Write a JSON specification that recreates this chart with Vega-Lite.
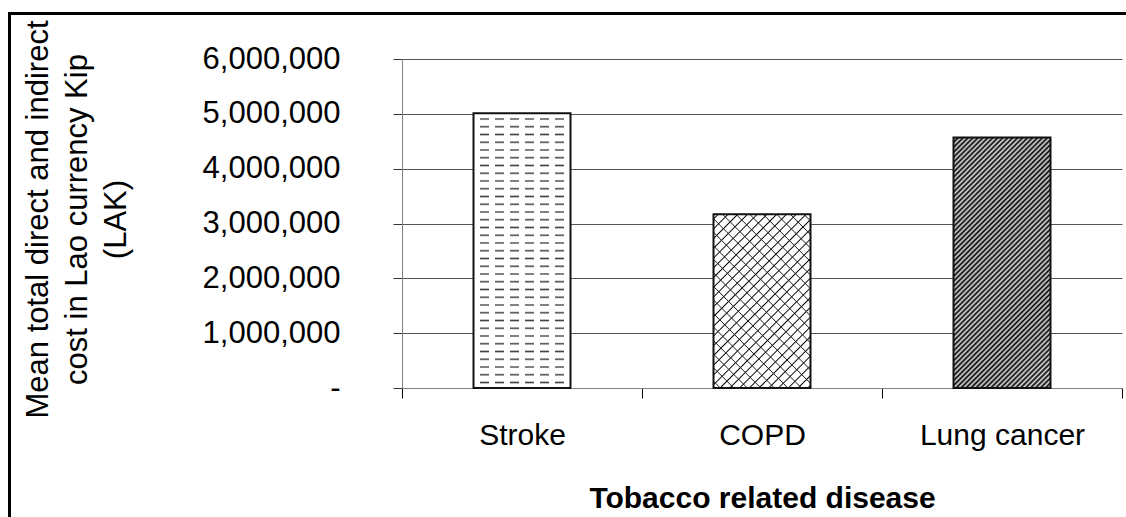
{
  "$schema": "https://vega.github.io/schema/vega-lite/v6.json",
  "width": 720,
  "height": 329,
  "autosize": {"type": "none"},
  "padding": {"left": 402, "top": 59, "right": 4, "bottom": 129},
  "background": "white",
  "config": {"font": "Liberation Sans", "view": {"stroke": null}},
  "datasets": {
    "costs": [
      {"disease": "Stroke", "cost": 5010000},
      {"disease": "COPD", "cost": 3170000},
      {"disease": "Lung cancer", "cost": 4570000}
    ]
  },
  "layer": [
    {
      "data": {"name": "costs"},
      "encoding": {
        "x": {
          "field": "disease", "type": "nominal", "sort": ["Stroke", "COPD", "Lung cancer"],
          "scale": {"paddingInner": 0, "paddingOuter": 0},
          "title": "Tobacco related disease",
          "axis": {
            "orient": "bottom", "labelAngle": 0, "labelFont": "Liberation Sans", "labelFontSize": 30, "labelColor": "#000",
            "labelPadding": 22, "tickBand": "extent", "tickSize": 10, "tickColor": "#000", "tickWidth": 1,
            "domainColor": "#808080", "domainWidth": 1, "grid": false,
            "titleFont": "Liberation Sans", "titleFontSize": 30, "titleFontWeight": "bold", "titleColor": "#000",
            "titleY": 95, "titleBaseline": "top"
          }
        },
        "y": {
          "field": "cost", "type": "quantitative",
          "scale": {"domain": [0, 6000000], "nice": false},
          "title": ["Mean total direct and indirect", "cost in Lao currency Kip", "(LAK)"],
          "axis": {
            "orient": "left",
            "values": [0, 1000000, 2000000, 3000000, 4000000, 5000000, 6000000],
            "labelExpr": "datum.value === 0 ? '-\u00a0\u00a0\u00a0\u00a0' : format(datum.value, ',')",
            "labelFont": "Liberation Sans", "labelFontSize": 31, "labelColor": "#000", "labelPadding": 53,
            "tickSize": 9, "tickColor": "#333", "domainColor": "#808080", "domainWidth": 1,
            "grid": true, "gridColor": "#555", "gridWidth": 1,
            "titleFont": "Liberation Sans", "titleFontSize": 31, "titleFontWeight": "normal", "titleColor": "#000",
            "titleAngle": -90, "titleX": -379, "titleY": 160, "titleAlign": "center", "titleBaseline": "top", "titleLineHeight": 39
          }
        }
      },
      "layer": [
        {
          "transform": [{"filter": "datum.disease === 'Stroke'"}],
          "mark": {"type": "bar", "size": 97, "fill": {"gradient": "linear", "x1": 0, "y1": 0, "x2": 0, "y2": 1, "stops": [
            {"offset": 0, "color": "#fff"},
            {"offset": 0.0153, "color": "#fff"},{"offset": 0.0208, "color": "#444"},{"offset": 0.0263, "color": "#fff"},
            {"offset": 0.0435, "color": "#fff"},{"offset": 0.0490, "color": "#444"},{"offset": 0.0545, "color": "#fff"},
            {"offset": 0.0717, "color": "#fff"},{"offset": 0.0772, "color": "#444"},{"offset": 0.0827, "color": "#fff"},
            {"offset": 0.0999, "color": "#fff"},{"offset": 0.1054, "color": "#444"},{"offset": 0.1109, "color": "#fff"},
            {"offset": 0.1281, "color": "#fff"},{"offset": 0.1336, "color": "#444"},{"offset": 0.1391, "color": "#fff"},
            {"offset": 0.1563, "color": "#fff"},{"offset": 0.1618, "color": "#444"},{"offset": 0.1673, "color": "#fff"},
            {"offset": 0.1845, "color": "#fff"},{"offset": 0.1900, "color": "#444"},{"offset": 0.1955, "color": "#fff"},
            {"offset": 0.2127, "color": "#fff"},{"offset": 0.2182, "color": "#444"},{"offset": 0.2237, "color": "#fff"},
            {"offset": 0.2409, "color": "#fff"},{"offset": 0.2464, "color": "#444"},{"offset": 0.2519, "color": "#fff"},
            {"offset": 0.2692, "color": "#fff"},{"offset": 0.2747, "color": "#444"},{"offset": 0.2802, "color": "#fff"},
            {"offset": 0.2974, "color": "#fff"},{"offset": 0.3029, "color": "#444"},{"offset": 0.3084, "color": "#fff"},
            {"offset": 0.3256, "color": "#fff"},{"offset": 0.3311, "color": "#444"},{"offset": 0.3366, "color": "#fff"},
            {"offset": 0.3538, "color": "#fff"},{"offset": 0.3593, "color": "#444"},{"offset": 0.3648, "color": "#fff"},
            {"offset": 0.3820, "color": "#fff"},{"offset": 0.3875, "color": "#444"},{"offset": 0.3930, "color": "#fff"},
            {"offset": 0.4102, "color": "#fff"},{"offset": 0.4157, "color": "#444"},{"offset": 0.4212, "color": "#fff"},
            {"offset": 0.4384, "color": "#fff"},{"offset": 0.4439, "color": "#444"},{"offset": 0.4494, "color": "#fff"},
            {"offset": 0.4666, "color": "#fff"},{"offset": 0.4721, "color": "#444"},{"offset": 0.4776, "color": "#fff"},
            {"offset": 0.4949, "color": "#fff"},{"offset": 0.5004, "color": "#444"},{"offset": 0.5059, "color": "#fff"},
            {"offset": 0.5231, "color": "#fff"},{"offset": 0.5286, "color": "#444"},{"offset": 0.5341, "color": "#fff"},
            {"offset": 0.5513, "color": "#fff"},{"offset": 0.5568, "color": "#444"},{"offset": 0.5623, "color": "#fff"},
            {"offset": 0.5795, "color": "#fff"},{"offset": 0.5850, "color": "#444"},{"offset": 0.5905, "color": "#fff"},
            {"offset": 0.6077, "color": "#fff"},{"offset": 0.6132, "color": "#444"},{"offset": 0.6187, "color": "#fff"},
            {"offset": 0.6359, "color": "#fff"},{"offset": 0.6414, "color": "#444"},{"offset": 0.6469, "color": "#fff"},
            {"offset": 0.6641, "color": "#fff"},{"offset": 0.6696, "color": "#444"},{"offset": 0.6751, "color": "#fff"},
            {"offset": 0.6924, "color": "#fff"},{"offset": 0.6979, "color": "#444"},{"offset": 0.7034, "color": "#fff"},
            {"offset": 0.7206, "color": "#fff"},{"offset": 0.7261, "color": "#444"},{"offset": 0.7316, "color": "#fff"},
            {"offset": 0.7488, "color": "#fff"},{"offset": 0.7543, "color": "#444"},{"offset": 0.7598, "color": "#fff"},
            {"offset": 0.7770, "color": "#fff"},{"offset": 0.7825, "color": "#444"},{"offset": 0.7880, "color": "#fff"},
            {"offset": 0.8052, "color": "#fff"},{"offset": 0.8107, "color": "#444"},{"offset": 0.8162, "color": "#fff"},
            {"offset": 0.8334, "color": "#fff"},{"offset": 0.8389, "color": "#444"},{"offset": 0.8444, "color": "#fff"},
            {"offset": 0.8616, "color": "#fff"},{"offset": 0.8671, "color": "#444"},{"offset": 0.8726, "color": "#fff"},
            {"offset": 0.8898, "color": "#fff"},{"offset": 0.8953, "color": "#444"},{"offset": 0.9008, "color": "#fff"},
            {"offset": 0.9181, "color": "#fff"},{"offset": 0.9236, "color": "#444"},{"offset": 0.9291, "color": "#fff"},
            {"offset": 0.9463, "color": "#fff"},{"offset": 0.9518, "color": "#444"},{"offset": 0.9573, "color": "#fff"},
            {"offset": 0.9745, "color": "#fff"},{"offset": 0.9800, "color": "#444"},{"offset": 0.9855, "color": "#fff"},
            {"offset": 1, "color": "#fff"}
          ]}}
        },
        {
          "transform": [{"filter": "datum.disease === 'Stroke'"}],
          "mark": {"type": "bar", "size": 97, "fill": {"gradient": "linear", "x1": 0, "y1": 0, "x2": 1, "y2": 0, "stops": [
            {"offset": 0, "color": "#fff"},{"offset": 0.07, "color": "#fff"},{"offset": 0.07, "color": "rgba(255,255,255,0)"},
            {"offset": 0.155, "color": "rgba(255,255,255,0)"},{"offset": 0.155, "color": "#fff"},{"offset": 0.225, "color": "#fff"},{"offset": 0.225, "color": "rgba(255,255,255,0)"},
            {"offset": 0.31, "color": "rgba(255,255,255,0)"},{"offset": 0.31, "color": "#fff"},{"offset": 0.38, "color": "#fff"},{"offset": 0.38, "color": "rgba(255,255,255,0)"},
            {"offset": 0.465, "color": "rgba(255,255,255,0)"},{"offset": 0.465, "color": "#fff"},{"offset": 0.535, "color": "#fff"},{"offset": 0.535, "color": "rgba(255,255,255,0)"},
            {"offset": 0.62, "color": "rgba(255,255,255,0)"},{"offset": 0.62, "color": "#fff"},{"offset": 0.69, "color": "#fff"},{"offset": 0.69, "color": "rgba(255,255,255,0)"},
            {"offset": 0.775, "color": "rgba(255,255,255,0)"},{"offset": 0.775, "color": "#fff"},{"offset": 0.845, "color": "#fff"},{"offset": 0.845, "color": "rgba(255,255,255,0)"},
            {"offset": 0.93, "color": "rgba(255,255,255,0)"},{"offset": 0.93, "color": "#fff"},{"offset": 1, "color": "#fff"}
          ]}}
        },
        {
          "transform": [{"filter": "datum.disease === 'COPD'"}],
          "mark": {"type": "bar", "size": 97, "fill": {"gradient": "linear", "x1": 0, "y1": 0, "x2": 0.663, "y2": 1.188, "stops": [
            {"offset": 0, "color": "#fff"},
            {"offset": 0.013, "color": "#fff"},{"offset": 0.018, "color": "#000"},{"offset": 0.023, "color": "#fff"},
            {"offset": 0.049, "color": "#fff"},{"offset": 0.054, "color": "#000"},{"offset": 0.059, "color": "#fff"},
            {"offset": 0.085, "color": "#fff"},{"offset": 0.090, "color": "#000"},{"offset": 0.095, "color": "#fff"},
            {"offset": 0.121, "color": "#fff"},{"offset": 0.126, "color": "#000"},{"offset": 0.131, "color": "#fff"},
            {"offset": 0.157, "color": "#fff"},{"offset": 0.162, "color": "#000"},{"offset": 0.167, "color": "#fff"},
            {"offset": 0.193, "color": "#fff"},{"offset": 0.198, "color": "#000"},{"offset": 0.203, "color": "#fff"},
            {"offset": 0.229, "color": "#fff"},{"offset": 0.234, "color": "#000"},{"offset": 0.239, "color": "#fff"},
            {"offset": 0.265, "color": "#fff"},{"offset": 0.270, "color": "#000"},{"offset": 0.275, "color": "#fff"},
            {"offset": 0.301, "color": "#fff"},{"offset": 0.306, "color": "#000"},{"offset": 0.311, "color": "#fff"},
            {"offset": 0.337, "color": "#fff"},{"offset": 0.342, "color": "#000"},{"offset": 0.347, "color": "#fff"},
            {"offset": 0.373, "color": "#fff"},{"offset": 0.378, "color": "#000"},{"offset": 0.383, "color": "#fff"},
            {"offset": 0.409, "color": "#fff"},{"offset": 0.414, "color": "#000"},{"offset": 0.419, "color": "#fff"},
            {"offset": 0.445, "color": "#fff"},{"offset": 0.450, "color": "#000"},{"offset": 0.455, "color": "#fff"},
            {"offset": 0.481, "color": "#fff"},{"offset": 0.486, "color": "#000"},{"offset": 0.491, "color": "#fff"},
            {"offset": 0.517, "color": "#fff"},{"offset": 0.522, "color": "#000"},{"offset": 0.527, "color": "#fff"},
            {"offset": 0.553, "color": "#fff"},{"offset": 0.558, "color": "#000"},{"offset": 0.563, "color": "#fff"},
            {"offset": 0.589, "color": "#fff"},{"offset": 0.594, "color": "#000"},{"offset": 0.599, "color": "#fff"},
            {"offset": 0.625, "color": "#fff"},{"offset": 0.630, "color": "#000"},{"offset": 0.635, "color": "#fff"},
            {"offset": 0.661, "color": "#fff"},{"offset": 0.666, "color": "#000"},{"offset": 0.671, "color": "#fff"},
            {"offset": 0.697, "color": "#fff"},{"offset": 0.702, "color": "#000"},{"offset": 0.707, "color": "#fff"},
            {"offset": 0.733, "color": "#fff"},{"offset": 0.738, "color": "#000"},{"offset": 0.743, "color": "#fff"},
            {"offset": 0.769, "color": "#fff"},{"offset": 0.774, "color": "#000"},{"offset": 0.779, "color": "#fff"},
            {"offset": 0.805, "color": "#fff"},{"offset": 0.810, "color": "#000"},{"offset": 0.815, "color": "#fff"},
            {"offset": 0.841, "color": "#fff"},{"offset": 0.846, "color": "#000"},{"offset": 0.851, "color": "#fff"},
            {"offset": 0.877, "color": "#fff"},{"offset": 0.882, "color": "#000"},{"offset": 0.887, "color": "#fff"},
            {"offset": 0.913, "color": "#fff"},{"offset": 0.918, "color": "#000"},{"offset": 0.923, "color": "#fff"},
            {"offset": 0.949, "color": "#fff"},{"offset": 0.954, "color": "#000"},{"offset": 0.959, "color": "#fff"},
            {"offset": 0.985, "color": "#fff"},{"offset": 0.990, "color": "#000"},{"offset": 0.995, "color": "#fff"},
            {"offset": 1, "color": "#fff"}
          ]}}
        },
        {
          "transform": [{"filter": "datum.disease === 'COPD'"}],
          "mark": {"type": "bar", "size": 97, "fill": {"gradient": "linear", "x1": 0, "y1": 1, "x2": 0.663, "y2": -0.188, "stops": [
            {"offset": 0, "color": "rgba(40,40,40,0)"},
            {"offset": 0.021, "color": "rgba(40,40,40,0)"},{"offset": 0.025, "color": "#282828"},{"offset": 0.029, "color": "rgba(40,40,40,0)"},
            {"offset": 0.071, "color": "rgba(40,40,40,0)"},{"offset": 0.075, "color": "#282828"},{"offset": 0.079, "color": "rgba(40,40,40,0)"},
            {"offset": 0.121, "color": "rgba(40,40,40,0)"},{"offset": 0.125, "color": "#282828"},{"offset": 0.129, "color": "rgba(40,40,40,0)"},
            {"offset": 0.171, "color": "rgba(40,40,40,0)"},{"offset": 0.175, "color": "#282828"},{"offset": 0.179, "color": "rgba(40,40,40,0)"},
            {"offset": 0.221, "color": "rgba(40,40,40,0)"},{"offset": 0.225, "color": "#282828"},{"offset": 0.229, "color": "rgba(40,40,40,0)"},
            {"offset": 0.271, "color": "rgba(40,40,40,0)"},{"offset": 0.275, "color": "#282828"},{"offset": 0.279, "color": "rgba(40,40,40,0)"},
            {"offset": 0.321, "color": "rgba(40,40,40,0)"},{"offset": 0.325, "color": "#282828"},{"offset": 0.329, "color": "rgba(40,40,40,0)"},
            {"offset": 0.371, "color": "rgba(40,40,40,0)"},{"offset": 0.375, "color": "#282828"},{"offset": 0.379, "color": "rgba(40,40,40,0)"},
            {"offset": 0.421, "color": "rgba(40,40,40,0)"},{"offset": 0.425, "color": "#282828"},{"offset": 0.429, "color": "rgba(40,40,40,0)"},
            {"offset": 0.471, "color": "rgba(40,40,40,0)"},{"offset": 0.475, "color": "#282828"},{"offset": 0.479, "color": "rgba(40,40,40,0)"},
            {"offset": 0.521, "color": "rgba(40,40,40,0)"},{"offset": 0.525, "color": "#282828"},{"offset": 0.529, "color": "rgba(40,40,40,0)"},
            {"offset": 0.571, "color": "rgba(40,40,40,0)"},{"offset": 0.575, "color": "#282828"},{"offset": 0.579, "color": "rgba(40,40,40,0)"},
            {"offset": 0.621, "color": "rgba(40,40,40,0)"},{"offset": 0.625, "color": "#282828"},{"offset": 0.629, "color": "rgba(40,40,40,0)"},
            {"offset": 0.671, "color": "rgba(40,40,40,0)"},{"offset": 0.675, "color": "#282828"},{"offset": 0.679, "color": "rgba(40,40,40,0)"},
            {"offset": 0.721, "color": "rgba(40,40,40,0)"},{"offset": 0.725, "color": "#282828"},{"offset": 0.729, "color": "rgba(40,40,40,0)"},
            {"offset": 0.771, "color": "rgba(40,40,40,0)"},{"offset": 0.775, "color": "#282828"},{"offset": 0.779, "color": "rgba(40,40,40,0)"},
            {"offset": 0.821, "color": "rgba(40,40,40,0)"},{"offset": 0.825, "color": "#282828"},{"offset": 0.829, "color": "rgba(40,40,40,0)"},
            {"offset": 0.871, "color": "rgba(40,40,40,0)"},{"offset": 0.875, "color": "#282828"},{"offset": 0.879, "color": "rgba(40,40,40,0)"},
            {"offset": 0.921, "color": "rgba(40,40,40,0)"},{"offset": 0.925, "color": "#282828"},{"offset": 0.929, "color": "rgba(40,40,40,0)"},
            {"offset": 0.971, "color": "rgba(40,40,40,0)"},{"offset": 0.975, "color": "#282828"},{"offset": 0.979, "color": "rgba(40,40,40,0)"},
            {"offset": 1, "color": "rgba(40,40,40,0)"}
          ]}}
        },
        {
          "transform": [{"filter": "datum.disease === 'Lung cancer'"}],
          "mark": {"type": "bar", "size": 97, "fill": {"gradient": "linear", "x1": 0, "y1": 0, "x2": 0.667, "y2": 1.7225, "stops": [
            {"offset": 0, "color": "#000"},{"offset": 0.005, "color": "#ddd"},{"offset": 0.01, "color": "#000"},{"offset": 0.015, "color": "#ddd"},
            {"offset": 0.02, "color": "#000"},{"offset": 0.025, "color": "#ddd"},{"offset": 0.03, "color": "#000"},{"offset": 0.035, "color": "#ddd"},
            {"offset": 0.04, "color": "#000"},{"offset": 0.045, "color": "#ddd"},{"offset": 0.05, "color": "#000"},{"offset": 0.055, "color": "#ddd"},
            {"offset": 0.06, "color": "#000"},{"offset": 0.065, "color": "#ddd"},{"offset": 0.07, "color": "#000"},{"offset": 0.075, "color": "#ddd"},
            {"offset": 0.08, "color": "#000"},{"offset": 0.085, "color": "#ddd"},{"offset": 0.09, "color": "#000"},{"offset": 0.095, "color": "#ddd"},
            {"offset": 0.10, "color": "#000"},{"offset": 0.105, "color": "#ddd"},{"offset": 0.11, "color": "#000"},{"offset": 0.115, "color": "#ddd"},
            {"offset": 0.12, "color": "#000"},{"offset": 0.125, "color": "#ddd"},{"offset": 0.13, "color": "#000"},{"offset": 0.135, "color": "#ddd"},
            {"offset": 0.14, "color": "#000"},{"offset": 0.145, "color": "#ddd"},{"offset": 0.15, "color": "#000"},{"offset": 0.155, "color": "#ddd"},
            {"offset": 0.16, "color": "#000"},{"offset": 0.165, "color": "#ddd"},{"offset": 0.17, "color": "#000"},{"offset": 0.175, "color": "#ddd"},
            {"offset": 0.18, "color": "#000"},{"offset": 0.185, "color": "#ddd"},{"offset": 0.19, "color": "#000"},{"offset": 0.195, "color": "#ddd"},
            {"offset": 0.20, "color": "#000"},{"offset": 0.205, "color": "#ddd"},{"offset": 0.21, "color": "#000"},{"offset": 0.215, "color": "#ddd"},
            {"offset": 0.22, "color": "#000"},{"offset": 0.225, "color": "#ddd"},{"offset": 0.23, "color": "#000"},{"offset": 0.235, "color": "#ddd"},
            {"offset": 0.24, "color": "#000"},{"offset": 0.245, "color": "#ddd"},{"offset": 0.25, "color": "#000"},{"offset": 0.255, "color": "#ddd"},
            {"offset": 0.26, "color": "#000"},{"offset": 0.265, "color": "#ddd"},{"offset": 0.27, "color": "#000"},{"offset": 0.275, "color": "#ddd"},
            {"offset": 0.28, "color": "#000"},{"offset": 0.285, "color": "#ddd"},{"offset": 0.29, "color": "#000"},{"offset": 0.295, "color": "#ddd"},
            {"offset": 0.30, "color": "#000"},{"offset": 0.305, "color": "#ddd"},{"offset": 0.31, "color": "#000"},{"offset": 0.315, "color": "#ddd"},
            {"offset": 0.32, "color": "#000"},{"offset": 0.325, "color": "#ddd"},{"offset": 0.33, "color": "#000"},{"offset": 0.335, "color": "#ddd"},
            {"offset": 0.34, "color": "#000"},{"offset": 0.345, "color": "#ddd"},{"offset": 0.35, "color": "#000"},{"offset": 0.355, "color": "#ddd"},
            {"offset": 0.36, "color": "#000"},{"offset": 0.365, "color": "#ddd"},{"offset": 0.37, "color": "#000"},{"offset": 0.375, "color": "#ddd"},
            {"offset": 0.38, "color": "#000"},{"offset": 0.385, "color": "#ddd"},{"offset": 0.39, "color": "#000"},{"offset": 0.395, "color": "#ddd"},
            {"offset": 0.40, "color": "#000"},{"offset": 0.405, "color": "#ddd"},{"offset": 0.41, "color": "#000"},{"offset": 0.415, "color": "#ddd"},
            {"offset": 0.42, "color": "#000"},{"offset": 0.425, "color": "#ddd"},{"offset": 0.43, "color": "#000"},{"offset": 0.435, "color": "#ddd"},
            {"offset": 0.44, "color": "#000"},{"offset": 0.445, "color": "#ddd"},{"offset": 0.45, "color": "#000"},{"offset": 0.455, "color": "#ddd"},
            {"offset": 0.46, "color": "#000"},{"offset": 0.465, "color": "#ddd"},{"offset": 0.47, "color": "#000"},{"offset": 0.475, "color": "#ddd"},
            {"offset": 0.48, "color": "#000"},{"offset": 0.485, "color": "#ddd"},{"offset": 0.49, "color": "#000"},{"offset": 0.495, "color": "#ddd"},
            {"offset": 0.50, "color": "#000"},{"offset": 0.505, "color": "#ddd"},{"offset": 0.51, "color": "#000"},{"offset": 0.515, "color": "#ddd"},
            {"offset": 0.52, "color": "#000"},{"offset": 0.525, "color": "#ddd"},{"offset": 0.53, "color": "#000"},{"offset": 0.535, "color": "#ddd"},
            {"offset": 0.54, "color": "#000"},{"offset": 0.545, "color": "#ddd"},{"offset": 0.55, "color": "#000"},{"offset": 0.555, "color": "#ddd"},
            {"offset": 0.56, "color": "#000"},{"offset": 0.565, "color": "#ddd"},{"offset": 0.57, "color": "#000"},{"offset": 0.575, "color": "#ddd"},
            {"offset": 0.58, "color": "#000"},{"offset": 0.585, "color": "#ddd"},{"offset": 0.59, "color": "#000"},{"offset": 0.595, "color": "#ddd"},
            {"offset": 0.60, "color": "#000"},{"offset": 0.605, "color": "#ddd"},{"offset": 0.61, "color": "#000"},{"offset": 0.615, "color": "#ddd"},
            {"offset": 0.62, "color": "#000"},{"offset": 0.625, "color": "#ddd"},{"offset": 0.63, "color": "#000"},{"offset": 0.635, "color": "#ddd"},
            {"offset": 0.64, "color": "#000"},{"offset": 0.645, "color": "#ddd"},{"offset": 0.65, "color": "#000"},{"offset": 0.655, "color": "#ddd"},
            {"offset": 0.66, "color": "#000"},{"offset": 0.665, "color": "#ddd"},{"offset": 0.67, "color": "#000"},{"offset": 0.675, "color": "#ddd"},
            {"offset": 0.68, "color": "#000"},{"offset": 0.685, "color": "#ddd"},{"offset": 0.69, "color": "#000"},{"offset": 0.695, "color": "#ddd"},
            {"offset": 0.70, "color": "#000"}
          ]}}
        },
        {
          "mark": {"type": "bar", "size": 97, "filled": false, "stroke": "#111", "strokeWidth": 2}
        }
      ]
    },
    {
      "data": {"values": [{}]},
      "mark": {"type": "rect", "filled": false, "stroke": "#000", "strokeWidth": 3},
      "encoding": {
        "x": {"datum": 0, "type": "quantitative", "scale": {"domain": [0, 1], "range": [-392.5, 800]}, "axis": null},
        "x2": {"datum": 1},
        "y": {"datum": 0, "type": "quantitative", "scale": {"domain": [0, 1], "range": [-45.5, 600]}, "axis": null},
        "y2": {"datum": 1}
      }
    }
  ],
  "resolve": {"scale": {"x": "independent", "y": "independent"}}
}
